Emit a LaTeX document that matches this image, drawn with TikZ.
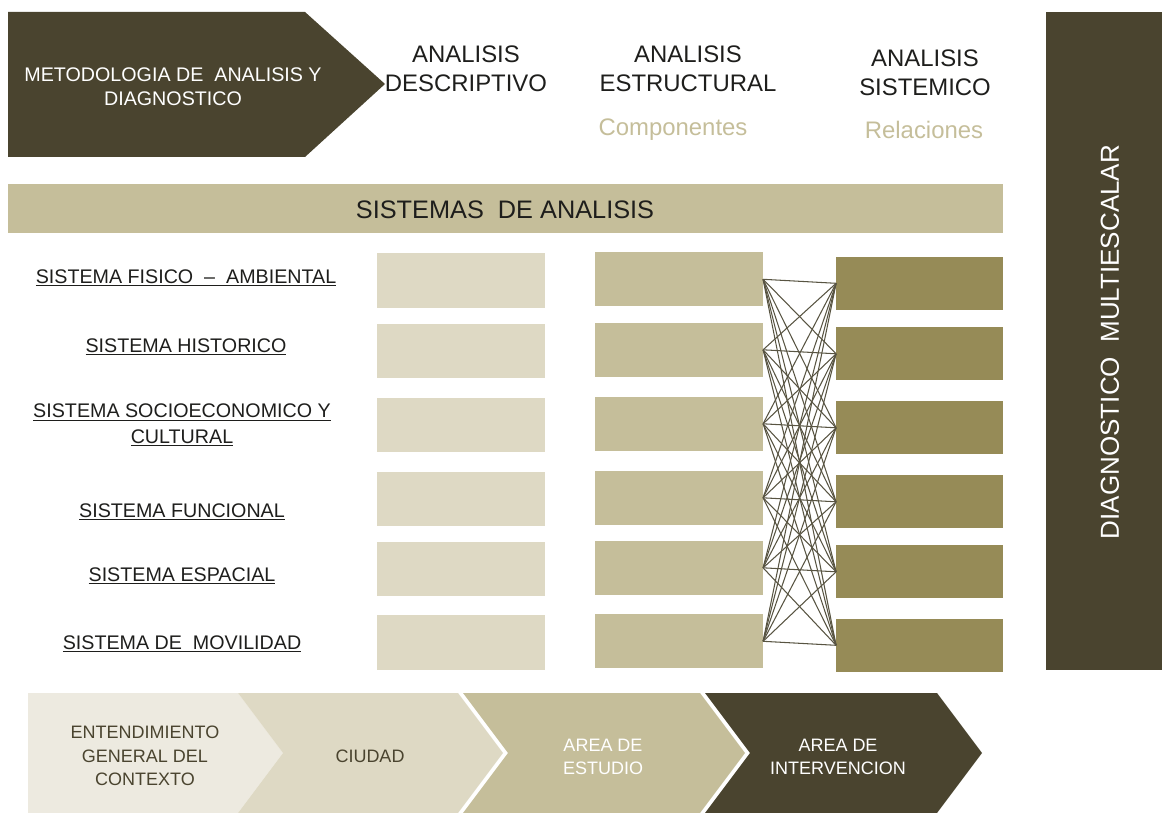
\documentclass[tikz,border=0pt]{standalone}
\usepackage{fontspec}
\setmainfont{Liberation Sans}
\usetikzlibrary{positioning}
\definecolor{oscuro}{RGB}{74,68,47}
\definecolor{arena}{RGB}{197,190,154}
\definecolor{claro}{RGB}{222,217,196}
\definecolor{oliva}{RGB}{150,139,87}
\definecolor{hueso}{RGB}{237,234,224}
\definecolor{tinta}{RGB}{30,30,28}
\definecolor{trazo}{RGB}{88,84,66}

\begin{document}
\begin{tikzpicture}[x=0.025cm,y=-0.025cm,inner sep=0pt,outer sep=0pt,
                    node distance=1.25cm,line width=0.5pt]
  \tikzstyle{caja}=[minimum width=4.2cm,minimum height=1.35cm]
  \tikzstyle{descriptivo}=[caja,fill=claro]
  \tikzstyle{estructural}=[caja,fill=arena]
  \tikzstyle{sistemico}=[caja,fill=oliva,minimum width=4.175cm,minimum height=1.33cm]
  \tikzstyle{sistema}=[align=center,text=tinta,font=\fontsize{14}{18}\selectfont]
  \tikzstyle{titulo}=[align=center,text=tinta,font=\fontsize{17}{20.6}\selectfont]
  \tikzstyle{subtitulo}=[text=arena,font=\fontsize{17}{20}\selectfont]
  \tikzstyle{etapa}=[align=center,font=\fontsize{12.8}{16.6}\selectfont]
  \tikzstyle{relacion}=[draw=trazo,line width=0.75pt]

  \useasboundingbox (0,0) rectangle (1162,813);

  \fill[oscuro] (8,12) -- (305,12) -- (385,84) -- (305,157) -- (8,157) -- cycle;
  \node[align=center,text=white,font=\fontsize{14}{17}\selectfont] (metodo) at (173,87)
       {METODOLOGIA DE~ ANALISIS Y\\DIAGNOSTICO};

  \node[titulo] (desc) at (466,69) {ANALISIS\\DESCRIPTIVO};
  \node[titulo] (estr) at (688,69) {ANALISIS\\ESTRUCTURAL};
  \node[titulo] (sist) at (925,73) {ANALISIS\\SISTEMICO};
  \node[subtitulo] (comp) at (673,130) {Componentes};
  \node[subtitulo] (rela) at (924,130) {Relaciones};

  \node[fill=arena,minimum width=24.875cm,minimum height=1.225cm] (banda) at (505.5,208.5) {};
  \node[font=\fontsize{18}{20}\selectfont,text=tinta] (sistemas) at (505,210) {SISTEMAS~ DE ANALISIS};

  \node[fill=oscuro,minimum width=2.9cm,minimum height=16.45cm] (barra) at (1104,341) {};
  \node[rotate=90,text=white,font=\fontsize{18.5}{20}\selectfont] (diag) at (1110,342)
       {DIAGNOSTICO~ MULTIESCALAR};

  \node[sistema] (l1) at (186,278) {\underline{SISTEMA FISICO~ -- ~AMBIENTAL}};
  \node[sistema] (l2) at (186,347) {\underline{SISTEMA HISTORICO}};
  \node[sistema] (l3) at (182,425) {\underline{SISTEMA SOCIOECONOMICO Y}\\\underline{CULTURAL}};
  \node[sistema] (l4) at (182,512) {\underline{SISTEMA FUNCIONAL}};
  \node[sistema] (l5) at (182,576) {\underline{SISTEMA ESPACIAL}};
  \node[sistema] (l6) at (182,644) {\underline{SISTEMA DE~ MOVILIDAD}};

  \node[descriptivo] (d1) at (461,280.5) {};
  \node[descriptivo] (d2) at (461,351) {};
  \node[descriptivo] (d3) at (461,425) {};
  \node[descriptivo] (d4) at (461,499) {};
  \node[descriptivo] (d5) at (461,569) {};
  \node[descriptivo] (d6) at (461,642.5) {};

  \node[estructural] (e1) [right=of d1, yshift=0.03cm] {};
  \node[estructural] (e2) [right=of d2, yshift=0.03cm] {};
  \node[estructural] (e3) [right=of d3, yshift=0.03cm] {};
  \node[estructural] (e4) [right=of d4, yshift=0.03cm] {};
  \node[estructural] (e5) [right=of d5, yshift=0.03cm] {};
  \node[estructural] (e6) [right=of d6, yshift=0.03cm] {};

  \node[sistemico] (r1) [right=1.825cm of e1, yshift=-0.1cm] {};
  \node[sistemico] (r2) [right=1.825cm of e2, yshift=-0.1cm] {};
  \node[sistemico] (r3) [right=1.825cm of e3, yshift=-0.1cm] {};
  \node[sistemico] (r4) [right=1.825cm of e4, yshift=-0.1cm] {};
  \node[sistemico] (r5) [right=1.825cm of e5, yshift=-0.1cm] {};
  \node[sistemico] (r6) [right=1.825cm of e6, yshift=-0.1cm] {};

  \foreach \i in {1,...,6}
    \foreach \j in {1,...,6}
      \path[relacion] (e\i.east) -- (r\j.west);

  \fill[hueso] (28,693) -- (238,693) -- (283,753) -- (238,813) -- (28,813) -- cycle;
  \fill[claro] (238,693) -- (458,693) -- (503,753) -- (458,813) -- (238,813) -- (283,753) -- cycle;
  \fill[arena] (463,693) -- (700,693) -- (745,753) -- (700,813) -- (463,813) -- (508,753) -- cycle;
  \fill[oscuro] (705,693) -- (937,693) -- (982,753) -- (937,813) -- (705,813) -- (750,753) -- cycle;

  \node[etapa,text=oscuro] (contexto) at (145,756) {ENTENDIMIENTO\\GENERAL DEL\\CONTEXTO};
  \node[etapa,text=oscuro] (ciudad) at (370,756) {CIUDAD};
  \node[etapa,text=white] (estudio) at (603,757) {AREA DE\\ESTUDIO};
  \node[etapa,text=white] (interv) at (838,757) {AREA DE\\INTERVENCION};
\end{tikzpicture}
\end{document}
